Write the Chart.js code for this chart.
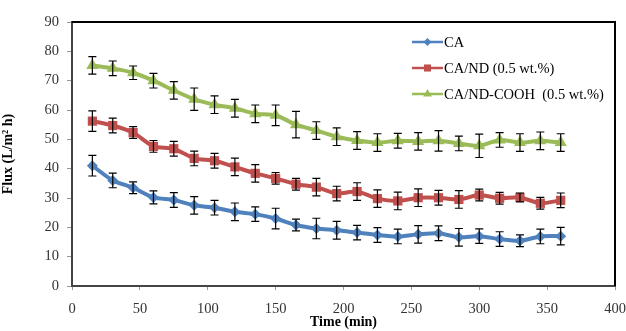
<!DOCTYPE html>
<html>
<head>
<meta charset="utf-8">
<script src="https://cdn.jsdelivr.net/npm/chart.js@4/dist/chart.umd.min.js"></script>
<style>
html,body{margin:0;padding:0;background:#fff;overflow:hidden;}
#wrap{width:626px;height:331px;position:relative;overflow:hidden;}
canvas{display:block;}
</style>
</head>
<body>
<div id="wrap"><canvas id="c" width="626" height="331"></canvas></div>
<script>
const times = [15,30,45,60,75,90,105,120,135,150,165,180,195,210,225,240,255,270,285,300,315,330,345,360];
const caFlux = [41,36,33.5,30.2,29.3,27.5,26.7,25.3,24.5,23,20.8,19.6,19,18.2,17.4,16.9,17.6,18,16.6,17,16,15.4,16.9,17];
const caErr = [3.5,2.5,2,2.2,2.5,3,2.5,3,2.5,3.5,2,3.5,3,2.5,2.5,2.5,3,2.5,3,2.5,2.5,2,2.5,3];
const ndFlux = [56.2,54.7,52.3,47.6,46.8,43.5,42.7,40.6,38.4,36.7,34.7,33.7,31.5,32.2,29.8,29,30.1,30.1,29.5,31,29.9,30.2,28.2,29.2];
const ndErr = [3.5,2.5,2,2,2.5,2.5,2.5,3,3,2,2,3,2.5,3,3,3,3,2.5,3,2,2,1.5,2,2.5];
const coohFlux = [75.2,74.2,72.7,70,66.7,63.7,61.8,60.6,58.7,58.2,55,53,50.9,49.6,48.9,49.5,49.3,49.5,48.6,47.8,49.8,48.9,49.5,48.9];
const coohErr = [3,2.5,2.3,2.5,3,3.8,3,3,3,3.5,4.5,3,3,3,3,2.5,3,3.5,2.5,4,2.5,3,3,3];
const seriesNames = ["CA","CA/ND (0.5 wt.%)","CA/ND-COOH  (0.5 wt.%)"];
const xTicks = [0,50,100,150,200,250,300,350,400];
const yTicks = [0,10,20,30,40,50,60,70,80,90];

const colors = ["#4F81BD","#C0504D","#9BBB59"];
const styles = ["rectRot","rect","triangle"];
const radii = [5.5,6.5,7];
const errs = [caErr, ndErr, coohErr];

function pts(vals){ return times.map((t,i)=>({x:t,y:vals[i]})); }

const errorBars = {
  id:'errorBars',
  afterDatasetsDraw(chart){
    const ctx = chart.ctx, xs = chart.scales.x, ys = chart.scales.y;
    ctx.save();
    ctx.strokeStyle = '#000'; ctx.lineWidth = 1.2;
    chart.data.datasets.forEach((ds,di)=>{
      const e = errs[di];
      ds.data.forEach((p,i)=>{
        const px = xs.getPixelForValue(p.x);
        const y1 = ys.getPixelForValue(p.y + e[i]);
        const y2 = ys.getPixelForValue(p.y - e[i]);
        ctx.beginPath();
        ctx.moveTo(px,y1); ctx.lineTo(px,y2);
        ctx.moveTo(px-4,y1); ctx.lineTo(px+4,y1);
        ctx.moveTo(px-4,y2); ctx.lineTo(px+4,y2);
        ctx.stroke();
      });
    });
    ctx.restore();
  }
};

const legendBox = {
  id:'legendBox',
  afterDraw(chart){
    const ctx = chart.ctx, a = chart.chartArea;
    ctx.save();
    ctx.fillStyle = '#000';
    ctx.fillRect(a.left, a.top - 1, a.right - a.left + 1, 2);
    ctx.fillRect(a.right - 1, a.top - 1, 2, a.bottom - a.top + 1);
    ctx.font = '14.5px "Liberation Serif", "Times New Roman", serif';
    ctx.textBaseline = 'middle';
    const lx = 412, ly = [42,68,94];
    chart.data.datasets.forEach((ds,i)=>{
      const y = ly[i];
      ctx.strokeStyle = colors[i]; ctx.lineWidth = 2.5;
      ctx.beginPath(); ctx.moveTo(lx,y); ctx.lineTo(lx+31,y); ctx.stroke();
      ctx.fillStyle = colors[i];
      Chart.helpers.drawPoint(ctx,{pointStyle:styles[i],radius:i==0?4:5,rotation:0,borderWidth:0},lx+15.5,y);
      ctx.fillStyle = '#000';
      ctx.fillText(ds.label, lx+32, y+1);
    });
    ctx.restore();
  }
};

new Chart(document.getElementById('c'),{
  type:'line',
  data:{
    datasets:[caFlux,ndFlux,coohFlux].map((v,i)=>({
      label:seriesNames[i],
      data:pts(v),
      borderColor:colors[i],
      backgroundColor:colors[i],
      borderWidth:4,
      pointStyle:styles[i],
      pointRadius:radii[i],
      pointBorderWidth:0,
      pointBackgroundColor:colors[i],
      tension:0.25
    }))
  },
  options:{
    responsive:false,
    animation:false,
    events:[],
    layout:{padding:{top:22,right:11,left:0,bottom:0}},
    plugins:{legend:{display:false},tooltip:{enabled:false}},
    scales:{
      x:{
        type:'linear',min:0,max:400,position:'bottom',
        afterBuildTicks(s){ s.ticks = xTicks.map(v=>({value:v})); },
        afterFit(s){ s.height = 45; s.paddingRight = 0; },
        grid:{display:true,drawOnChartArea:false,drawTicks:true,tickLength:4,color:'#999',lineWidth:1},
        border:{display:true,color:'#444',width:2},
        ticks:{color:'#333',font:{family:'"Liberation Serif", serif',size:14.5},padding:10,maxRotation:0},
        title:{display:true,text:'Time (min)',color:'#000',font:{family:'"Liberation Serif", serif',size:14,weight:'bold'},padding:{top:0,bottom:0}}
      },
      y:{
        type:'linear',min:0,max:90,position:'left',
        afterBuildTicks(s){ s.ticks = yTicks.map(v=>({value:v})); },
        afterFit(s){ s.width = 72; },
        grid:{display:true,drawOnChartArea:false,drawTicks:true,tickLength:5,color:'#999',lineWidth:1},
        border:{display:true,color:'#444',width:2},
        ticks:{color:'#333',font:{family:'"Liberation Serif", serif',size:14.5},padding:8},
        title:{display:true,text:'Flux (L/m\u00B2 h)',color:'#000',font:{family:'"Liberation Serif", serif',size:14,weight:'bold'},padding:{top:0,bottom:2}}
      }
    }
  },
  plugins:[errorBars,legendBox]
});
</script>
</body>
</html>
